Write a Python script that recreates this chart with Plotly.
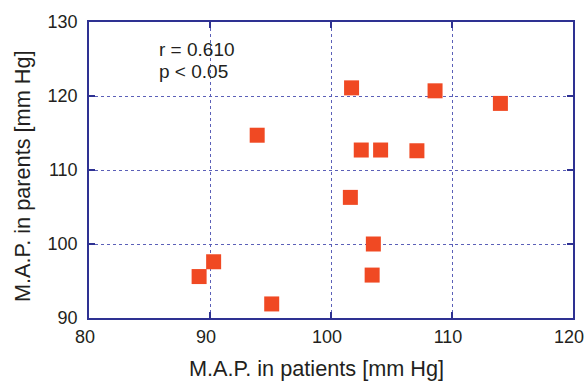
import plotly.graph_objects as go

patients = [93.9, 101.7, 108.6, 114.0, 102.5, 104.1, 107.1, 101.6, 103.5, 103.4, 89.1, 90.3, 95.1]
parents = [114.7, 121.1, 120.7, 119.0, 112.7, 112.7, 112.6, 106.3, 100.0, 95.8, 95.6, 97.6, 91.9]

x_ticks = [80, 90, 100, 110, 120]
y_ticks = [90, 100, 110, 120, 130]
x_title = "M.A.P. in patients [mm Hg]"
y_title = "M.A.P. in parents [mm Hg]"
stats_text = ["r = 0.610", "p < 0.05"]

font_family = "Liberation Sans, Arial, sans-serif"
text_color = "#231f20"
axis_color = "#2e3192"
grid_color = "#5b60b8"

# plot-area geometry in pixels
L, R, T, B = 89, 13, 22, 66
W, H = 586, 384
pw, ph = W - L - R, H - T - B

def px_x(p):
    return (p - L) / pw

def px_y(p):
    return 1 - (p - T) / ph

fig = go.Figure()
fig.add_trace(go.Scatter(
    x=patients, y=parents, mode="markers",
    marker=dict(symbol="square", size=15, color="#f04923", line=dict(width=0)),
    showlegend=False, cliponaxis=False,
))

axis_common = dict(
    showline=True, linecolor=axis_color, linewidth=1.5, mirror="ticks",
    ticks="inside", ticklen=6, tickcolor=axis_color, tickwidth=1.5,
    showgrid=True, gridcolor=grid_color, griddash="dot", gridwidth=1,
    zeroline=False, ticklabeloverflow="allow", automargin=False,
    tickfont=dict(family=font_family, size=18, color=text_color),
)

fig.update_layout(
    width=W, height=H,
    margin=dict(l=L, r=R, t=T, b=B),
    paper_bgcolor="white", plot_bgcolor="white",
    xaxis=dict(range=[80, 120], tickvals=x_ticks,
               ticklabelstandoff=2, ticklabelshift=-4, **axis_common),
    yaxis=dict(range=[90, 130], tickvals=y_ticks, ticklabelstandoff=6, **axis_common),
)

fig.add_annotation(
    xref="paper", yref="paper", x=px_x(316.5), y=px_y(368),
    xanchor="center", yanchor="middle", showarrow=False,
    text=x_title, font=dict(family=font_family, size=21.7, color=text_color),
)
fig.add_annotation(
    xref="paper", yref="paper", x=px_x(22), y=px_y(176),
    xanchor="center", yanchor="middle", showarrow=False, textangle=-90,
    text=y_title, font=dict(family=font_family, size=21.7, color=text_color),
)

for i, t in enumerate(stats_text):
    fig.add_annotation(
        xref="paper", yref="paper", x=px_x(157), y=px_y(49 + 23 * i),
        xanchor="left", yanchor="middle", align="left", showarrow=False,
        text=t, font=dict(family=font_family, size=19, color=text_color),
    )

fig.write_html("out.html")
